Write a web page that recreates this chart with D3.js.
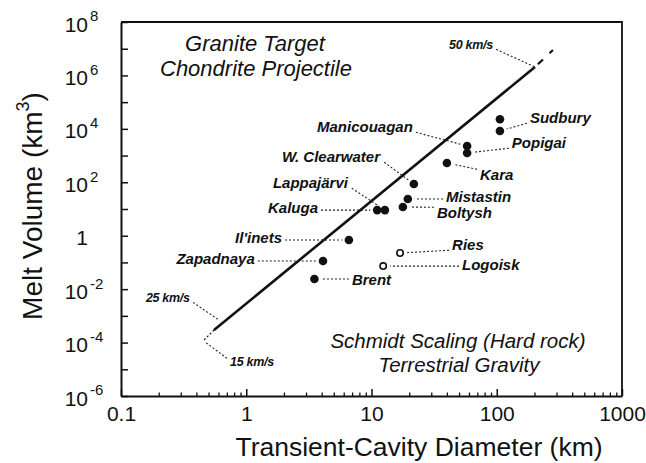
<!DOCTYPE html>
<html>
<head>
<meta charset="utf-8">
<script src="https://cdn.jsdelivr.net/npm/d3@7"></script>
<style>
  body { margin: 0; background: #fff; }
  text { font-family: "Liberation Sans", Arial, sans-serif; fill: #111; }
</style>
</head>
<body>
<div id="chart"></div>
<script>
// craters: transient-cavity diameter (km) and melt volume (km^3)
const craterNames = ["Sudbury", "", "Manicouagan", "Popigai", "Kara", "W. Clearwater", "Mistastin", "Boltysh",
                     "Lappajärvi", "Kaluga", "Il'inets", "Zapadnaya", "Brent", "Ries", "Logoisk"];
const craterD = [106, 106, 58, 58, 40, 21.8, 19.5, 17.8, 12.8, 11.1, 6.6, 4.1, 3.5, 16.9, 12.4];
const craterV = [8.3e3, 2.3e4, 2280, 1250, 526, 86, 23.6, 11.9, 9.1, 9.1, 0.69, 0.113, 0.024, 0.225, 0.073];
const craterHollow = [false, false, false, false, false, false, false, false, false, false, false, false, false, true, true];

// where each crater name sits (same units as the data), and which side of it is anchored
const labelD = [184, null, 21.4, 132, 73.5, 11.7, 39.4, 33.3, 6.49, 3.74, 1.93, 1.17, 6.98, 44.0, 52.8];
const labelV = [2.55e4, null, 1.17e4, 2960, 187, 884, 28.1, 7.08, 94, 10.9, 0.82, 0.134, 0.022, 0.449, 0.080];
const labelAnchor = ["start", null, "end", "start", "start", "end", "start", "start",
                     "end", "end", "end", "end", "start", "start", "start"];

// Schmidt scaling line (solid part) and its dashed extensions
const scalingD = [0.553, 202];
const scalingV = [2.95e-4, 2.07e6];
const upperDashD = [202, 281];
const upperDashV = [2.07e6, 8.96e6];
const lowerDotD = [0.553, 0.452];
const lowerDotV = [2.95e-4, 1.15e-4];

// impact velocity marks along the line
const velText = ["50 km/s", "25 km/s", "15 km/s"];
const velLabelD = [41.6, 0.158, 0.742];
const velLabelV = [1.38e7, 4.66e-3, 1.87e-5];
const velTargetD = [202, 0.606, 0.469];
const velTargetV = [2.07e6, 7.0e-4, 1.05e-4];

// axis ticks
const xTickValues = [0.1, 1, 10, 100, 1000];
const xTickLabels = ["0.1", "1", "10", "100", "1000"];
const yTickExp = [8, 7, 6, 5, 4, 3, 2, 1, 0, -1, -2, -3, -4, -5, -6];
const yLabelExp = [8, 6, 4, 2, 0, -2, -4, -6];

const W = 646, H = 463;
const margin = { top: 22, right: 24, bottom: 67, left: 121 };
const iw = W - margin.left - margin.right;
const ih = H - margin.top - margin.bottom;
const ink = "#111";

const x = d3.scaleLog().domain([0.1, 1000]).range([0, iw]);
const y = d3.scaleLog().domain([1e-6, 1e8]).range([ih, 0]);

const svg = d3.select("#chart").append("svg")
    .attr("width", W)
    .attr("height", H);
const g = svg.append("g").attr("transform", `translate(${margin.left},${margin.top})`);

// top and right frame
g.append("path")
    .attr("d", `M0,0H${iw}V${ih}`)
    .attr("fill", "none")
    .attr("stroke", ink)
    .attr("stroke-width", 1.8);

// x axis: minor ticks first, then majors with labels
const xMinor = x.ticks().filter(v => !xTickValues.includes(v));
g.append("g")
    .attr("transform", `translate(0,${ih})`)
    .call(d3.axisBottom(x).tickValues(xMinor).tickSize(-3.5).tickSizeOuter(0).tickFormat(""))
    .call(a => a.select(".domain").remove())
    .call(a => a.selectAll("line").attr("stroke", ink).attr("stroke-width", 1.3));

const xAxis = g.append("g")
    .attr("transform", `translate(0,${ih})`)
    .call(d3.axisBottom(x).tickValues(xTickValues).tickSize(-7).tickSizeOuter(0)
        .tickPadding(10).tickFormat((d, i) => xTickLabels[i]));
xAxis.select(".domain").attr("stroke", ink).attr("stroke-width", 2);
xAxis.selectAll("line").attr("stroke", ink).attr("stroke-width", 1.5);
xAxis.selectAll("text")
    .attr("fill", ink)
    .style("font-size", "21px")
    .style("font-family", "'Liberation Sans', Arial, sans-serif");

// y axis: a tick every decade, labels on even powers
const yAxis = g.append("g")
    .call(d3.axisLeft(y).tickValues(yTickExp.map(e => Math.pow(10, e))).tickSize(-7)
        .tickSizeOuter(0).tickFormat(""));
yAxis.select(".domain").attr("stroke", ink).attr("stroke-width", 2);
yAxis.selectAll("line").attr("stroke", ink).attr("stroke-width", 1.5);

yLabelExp.forEach(e => {
    const ty = y(Math.pow(10, e)) + 2;
    if (e === 0) {
        g.append("text").attr("x", -33).attr("y", ty).attr("dy", "0.36em")
            .attr("text-anchor", "end").style("font-size", "21px").text("1");
        return;
    }
    g.append("text").attr("x", -33).attr("y", ty).attr("dy", "0.36em")
        .attr("text-anchor", "end").style("font-size", "21px").text("10");
    g.append("text").attr("x", -31).attr("y", ty - 8).attr("dy", "0.36em")
        .attr("text-anchor", "start").style("font-size", "15px").text(e);
});

// axis titles
g.append("text")
    .attr("x", 298).attr("y", 434)
    .attr("text-anchor", "middle")
    .style("font-size", "26.5px")
    .text("Transient-Cavity Diameter (km)");

const yTitle = g.append("text")
    .attr("transform", `translate(${42 - margin.left},${206 - margin.top}) rotate(-90)`)
    .attr("text-anchor", "middle")
    .style("font-size", "28px");
yTitle.append("tspan").text("Melt Volume (km");
yTitle.append("tspan").attr("dy", "-0.75em").style("font-size", "18px").text("3");
yTitle.append("tspan").attr("dy", "0.48em").text(")");

// scaling line
const line = d3.line().x(d => x(d[0])).y(d => y(d[1]));
g.append("path")
    .datum(d3.zip(scalingD, scalingV))
    .attr("d", line)
    .attr("fill", "none")
    .attr("stroke", ink)
    .attr("stroke-width", 2.6);
g.append("path")
    .datum(d3.zip(upperDashD, upperDashV))
    .attr("d", line)
    .attr("fill", "none")
    .attr("stroke", ink)
    .attr("stroke-width", 2.2)
    .attr("stroke-dasharray", "0,4,7,5");
g.append("path")
    .datum(d3.zip(lowerDotD, lowerDotV))
    .attr("d", line)
    .attr("fill", "none")
    .attr("stroke", ink)
    .attr("stroke-width", 1.2)
    .attr("stroke-dasharray", "2,2");

// text annotations
const note = (tx, ty, size, str) => g.append("text")
    .attr("x", tx).attr("y", ty)
    .attr("text-anchor", "middle")
    .style("font-style", "italic")
    .style("font-size", size)
    .text(str);
note(134, 29, "22px", "Granite Target");
note(135, 54, "22px", "Chondrite Projectile");
note(337, 326, "20.5px", "Schmidt Scaling (Hard rock)");
note(338, 350, "20.5px", "Terrestrial Gravity");

// leader from the nearest edge of a label box to a target
function leader(box, tx, ty, shorten) {
    const pad = 3;
    const sx = Math.max(box.x - pad, Math.min(tx, box.x + box.width + pad));
    const sy = Math.max(box.y + pad, Math.min(ty, box.y + box.height - pad));
    const dx = tx - sx, dy = ty - sy;
    const len = Math.hypot(dx, dy) || 1;
    g.append("line")
        .attr("x1", sx).attr("y1", sy)
        .attr("x2", tx - dx / len * shorten).attr("y2", ty - dy / len * shorten)
        .attr("stroke", "#222")
        .attr("stroke-width", 1.1)
        .attr("stroke-dasharray", "2,2");
}

// velocity labels
velText.forEach((t, i) => {
    const lab = g.append("text")
        .attr("x", x(velLabelD[i])).attr("y", y(velLabelV[i]))
        .attr("dy", "0.35em")
        .style("font-size", "12.5px")
        .style("font-style", "italic")
        .style("font-weight", "bold")
        .style("letter-spacing", "-0.3px")
        .text(t);
    leader(lab.node().getBBox(), x(velTargetD[i]), y(velTargetV[i]), 0);
});

// crater labels and leaders
craterNames.forEach((name, i) => {
    if (!name) return;
    const lab = g.append("text")
        .attr("x", x(labelD[i])).attr("y", y(labelV[i]))
        .attr("dy", "0.35em")
        .attr("text-anchor", labelAnchor[i])
        .style("font-size", "15px")
        .style("font-style", "italic")
        .style("font-weight", "bold")
        .text(name);
    leader(lab.node().getBBox(), x(craterD[i]), y(craterV[i]), 7);
});

// crater points
g.selectAll(".crater")
    .data(d3.range(craterD.length))
    .enter().append("circle")
    .attr("class", "crater")
    .attr("cx", i => x(craterD[i]))
    .attr("cy", i => y(craterV[i]))
    .attr("r", i => craterHollow[i] ? 3.2 : 4.3)
    .attr("fill", i => craterHollow[i] ? "#fff" : ink)
    .attr("stroke", ink)
    .attr("stroke-width", i => craterHollow[i] ? 1.6 : 0);
</script>
</body>
</html>
